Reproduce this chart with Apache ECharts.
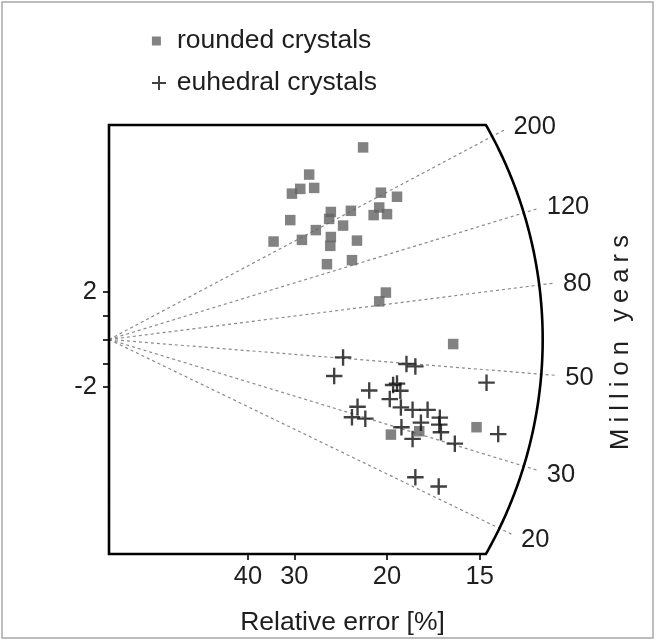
<!DOCTYPE html>
<html>
<head>
<meta charset="utf-8">
<script src="https://cdn.jsdelivr.net/npm/echarts@6/dist/echarts.min.js"></script>
<style>
  html, body { margin: 0; padding: 0; background: #fff; }
  #chart { width: 656px; height: 641px; }
</style>
</head>
<body>
<div id="chart"></div>
<script>
// Radial plot of single-grain ages: x = precision (100 / relative error %),
// y = standardised estimate z relative to the central age.

const roundedPrecision = [4.57, 3.60, 3.44, 3.29, 3.69, 4.89, 5.18, 4.35, 3.99, 3.96,
                          4.86, 4.76, 5.00, 3.26, 4.21, 3.72, 2.96, 3.47, 3.99, 3.98,
                          4.46, 3.92, 4.37, 4.86, 4.98, 6.19, 6.61, 5.07, 5.58];
const roundedZ = [8.06, 6.92, 6.32, 6.12, 6.36, 6.16, 5.99, 5.40, 5.35, 5.06,
                  5.54, 5.22, 5.26, 5.01, 4.78, 4.59, 4.11, 4.18, 4.30, 3.93,
                  4.15, 3.16, 3.33, 1.60, 1.97, -0.19, -3.68, -3.99, -3.85];

const euhedralPrecision = [4.21, 4.05, 5.35, 5.51, 6.79, 4.68, 5.11, 5.18, 5.24, 5.05,
                           4.47, 4.37, 4.61, 5.25, 5.46, 5.73, 5.95, 5.94, 5.26, 5.61,
                           5.97, 5.46, 6.22, 7.00, 5.51, 5.93];
const euhedralZ = [-0.75, -1.53, -1.03, -1.13, -1.81, -2.14, -1.91, -1.85, -2.15, -2.50,
                   -2.82, -3.26, -3.32, -2.85, -2.95, -2.95, -3.28, -3.57, -3.68, -3.49,
                   -3.89, -4.17, -4.37, -3.97, -5.78, -6.17];

const relErrorTicks = [40, 30, 20, 15];      // %
const zTicks = [-2, -1, 0, 1, 2];
const zLabels = [-2, 2];
const ageTicks = [200, 120, 80, 50, 30, 20]; // Ma
const centralAge = 60;                       // Ma

const seriesNames = ['rounded crystals', 'euhedral crystals'];
const radialTitle = 'Million years';

// ---- layout ----
const FONT = '"Liberation Sans", Arial, Helvetica, sans-serif';
const X_MAX = 8.4, Y_MIN = -9, Y_MAX = 9;
const ARC_X = 7.8;          // where the age arc crosses z = 0 (precision units)
const RADIAL_SPREAD = 1.027; // z-units per unit of log age along the arc
const RAY_EXT = 16;         // dashed rays run this far past the arc (px)
const LABEL_GAP = 24;       // age labels start this far past the arc (px)
const LABEL_DROP = 1.5;     // labels sit slightly below their ray (px)
const SQUARE = 'path://M0,0H10V10H0Z';
const PLUS = 'path://M6,0H8V6H14V8H8V14H6V8H0V6H6Z';

const chart = echarts.init(document.getElementById('chart'), null, { renderer: 'canvas' });

function pairs(xs, ys) { return xs.map((x, i) => [x, ys[i]]); }

// Frame with the curved age axis, dashed age rays and their labels
function radialFrame(params, api) {
  const o = api.coord([0, 0]);
  const e = api.coord([ARC_X, 0]);
  const R = e[0] - o[0];
  const top = api.coord([0, Y_MAX]);
  const bottom = api.coord([0, Y_MIN]);
  const sx = api.size([1, 0])[0];
  const sy = api.size([0, 1])[1];
  const th0 = Math.asin((o[1] - top[1]) / R);

  const pts = [[top[0], top[1]]];
  const N = 160;
  for (let i = 0; i <= N; i++) {
    const a = -th0 + 2 * th0 * i / N;
    pts.push([o[0] + R * Math.cos(a), o[1] + R * Math.sin(a)]);
  }
  pts.push([bottom[0], bottom[1]]);

  const children = [];
  ageTicks.forEach(t => {
    const k = RADIAL_SPREAD * Math.log(t / centralAge);
    const dx = sx, dy = -sy * k;
    const len = Math.hypot(dx, dy);
    const ux = dx / len, uy = dy / len;
    children.push({
      type: 'line',
      shape: { x1: o[0], y1: o[1], x2: o[0] + ux * (R + RAY_EXT), y2: o[1] + uy * (R + RAY_EXT) },
      style: { stroke: '#8a8a8a', lineWidth: 1.2, lineDash: [3, 3] }
    });
    children.push({
      type: 'text',
      x: o[0] + ux * (R + LABEL_GAP),
      y: o[1] + uy * (R + LABEL_GAP) + LABEL_DROP,
      style: {
        text: String(t), fontSize: 25.5, fontFamily: FONT, fill: '#1e1e1e',
        align: 'left', verticalAlign: 'middle', textAlign: 'left', textVerticalAlign: 'middle'
      }
    });
  });
  children.push({
    type: 'polygon',
    shape: { points: pts },
    style: { fill: null, stroke: '#000', lineWidth: 2.6, lineJoin: 'miter' }
  });
  return { type: 'group', children };
}

// Letter-spaced vertical title for the age scale
function spacedVertical(text, fontSize, spacing, cx, cy) {
  const ctx = document.createElement('canvas').getContext('2d');
  ctx.font = fontSize + 'px ' + FONT;
  const chars = Array.from(text);
  const widths = chars.map(c => ctx.measureText(c).width);
  const total = widths.reduce((a, b) => a + b, 0) + spacing * (chars.length - 1);
  let x = -total / 2;
  const letters = chars.map((c, i) => {
    const el = {
      type: 'text', x: x, y: 0,
      style: {
        text: c, fontSize: fontSize, fontFamily: FONT, fill: '#1e1e1e',
        align: 'left', verticalAlign: 'middle', textAlign: 'left', textVerticalAlign: 'middle'
      }
    };
    x += widths[i] + spacing;
    return el;
  });
  return { type: 'group', x: cx, y: cy, rotation: Math.PI / 2, children: letters, silent: true };
}

const legendText = { fontSize: 26.5, fontFamily: FONT, color: '#1e1e1e', lineHeight: 30 };

chart.setOption({
  animation: false,
  backgroundColor: '#fff',
  grid: { left: 109, top: 125, width: X_MAX * 55.6, height: 433, containLabel: false },
  legend: [
    {
      data: [{ name: seriesNames[0], icon: SQUARE }],
      left: 151.9, top: 26, padding: 0, itemWidth: 31, itemHeight: 9,
      selectedMode: false, textStyle: legendText
    },
    {
      data: [{ name: seriesNames[1], icon: PLUS }],
      left: 152, top: 68, padding: 0, itemWidth: 25.4, itemHeight: 14,
      selectedMode: false, textStyle: legendText
    }
  ],
  xAxis: {
    type: 'value', min: 0, max: X_MAX,
    splitLine: { show: false },
    axisLine: { show: false, onZero: false },
    axisTick: {
      show: true, customValues: relErrorTicks.map(r => 100 / r),
      length: 6, lineStyle: { color: '#000', width: 1.6 }
    },
    axisLabel: {
      customValues: relErrorTicks.map(r => 100 / r),
      formatter: v => String(Math.round(100 / v)),
      fontSize: 25.5, fontFamily: FONT, color: '#1e1e1e', margin: 10
    },
    name: 'Relative error [%]', nameLocation: 'middle', nameGap: 55,
    nameTextStyle: { fontSize: 26.5, fontFamily: FONT, color: '#1e1e1e' }
  },
  yAxis: {
    type: 'value', min: Y_MIN, max: Y_MAX,
    splitLine: { show: false },
    axisLine: { show: false, onZero: false },
    axisTick: { show: true, customValues: zTicks, length: 6, lineStyle: { color: '#000', width: 1.6 } },
    axisLabel: { customValues: zLabels, fontSize: 25.5, fontFamily: FONT, color: '#1e1e1e', margin: 12 }
  },
  graphic: [
    spacedVertical(radialTitle, 25.5, 6.1, 621, 342.5),
    {
      type: 'rect', silent: true,
      shape: { x: 2, y: 2, width: 651, height: 636 },
      style: { fill: null, stroke: '#a8a8a8', lineWidth: 1.5 }
    }
  ],
  series: [
    {
      type: 'custom', silent: true, z: 1,
      renderItem: radialFrame,
      data: [[0, 0]]
    },
    {
      name: seriesNames[0], type: 'scatter', z: 3,
      symbol: SQUARE, symbolSize: 10.5,
      itemStyle: { color: '#636363' },
      data: pairs(roundedPrecision, roundedZ)
    },
    {
      name: seriesNames[1], type: 'scatter', z: 4,
      symbol: PLUS, symbolSize: 16.5,
      itemStyle: { color: '#111' },
      data: pairs(euhedralPrecision, euhedralZ)
    }
  ]
});
</script>
</body>
</html>
